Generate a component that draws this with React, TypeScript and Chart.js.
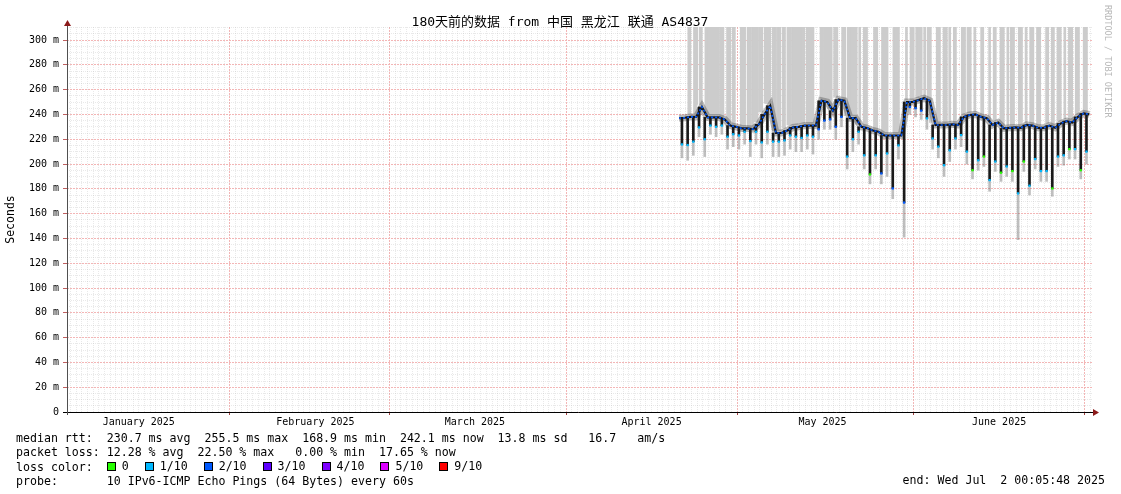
import React, { useEffect, useRef } from 'react';
import { Chart, registerables } from 'chart.js';

Chart.register(...registerables);

const FONT = "'DejaVu Sans Mono', 'Noto Sans CJK SC', monospace";
const TITLE = '180天前的数据 from 中国 黑龙江 联通 AS4837';
const Y_TITLE = 'Seconds';
const WATERMARK = 'RRDTOOL / TOBI OETIKER';

// time axis: days since 2025-01-03 00:05:48 (graph start, local time)
const GRAPH_START = Date.UTC(2025, 0, 3, 0, 5, 48);
const AXIS_MIN_DAY = 0.4;
const AXIS_MAX_DAY = 180.3;
const Y_MAX = 310.5;
const MONTH_LABELS = ['January 2025', 'February 2025', 'March 2025', 'April 2025', 'May 2025', 'June 2025'];
const MONTH_LABEL_DATE = 16;

// data: one entry per day, starting at day FIRST_DAY after graph start
const FIRST_DAY = 107;
const DIP_TIME = 0.33; // time of day of the daily dip (fraction of a day)

// median plateau level of each day (ms)
const medianLevel = [
  237, 237.3, 238, 238, 246, 237.6, 237.6, 237.6, 236, 231,
  230, 228.7, 228.7, 228.2, 232, 240, 247, 225, 225, 227,
  229.5, 230, 231, 231, 231, 251, 250, 243, 252, 251,
  237, 237, 230, 229, 227, 226, 223, 223, 223, 223,
  250, 250, 251.5, 253, 251, 231.5, 231.5, 231.5, 232, 231.5,
  238, 239.5, 240, 238, 237, 231.5, 233.5, 228.7, 229.2, 229.5,
  229.2, 231.5, 231, 229.2, 229.2, 231, 229.2, 232.7, 234.6, 233.5,
  238, 240.8, 240,
];

// lowest median of the daily dip (ms)
const dipMin = [
  null, 215.8, 215.3, 218, 229.5, 220, 231, 230, 231, 222,
  224, 223, 226, 218.5, 226, 217.4, 226, 218, 218, 219,
  223, 222, 221, 223, 222, 228, 235, 236, 230, 238,
  206, 220, 226, 207, 191.6, 207, 192.4, 208.5, 180.3, 215,
  168.9, 246, 245, 243, 236.8, 220.6, 214, 199, 211, 220.6,
  223.3, 210, 195, 203, 206, 187, 202, 193, 198, 194.3,
  176.3, 202, 182.5, 204, 194.3, 194.3, 180.3, 206, 207, 212,
  212, 195, 210,
];

// lower edge of the smoke below each dip (ms)
const smokeFloor = [
  null, 205, 203, 207, 222, 206, 224, 222, 224, 212,
  214, 212, 216, 206, 216, 205, 216, 206, 206, 207,
  212, 210, 210, 212, 208, 220, 228, 228, 220, 230,
  196, 210, 216, 196, 184, 196, 184, 190, 172, 204,
  141, 240, 238, 236, 228, 212, 205, 190, 202, 212,
  214, 200, 188, 195, 198, 178, 194, 186, 190, 186,
  139, 194, 175, 196, 186, 186, 174, 198, 199, 204,
  204, 188, 200,
];

// loss class at the bottom of each dip (index into LOSS_COLORS)
const dipLoss = [
  1, 1, 1, 1, 1, 1, 1, 1, 1, 1,
  1, 1, 1, 1, 1, 1, 1, 1, 1, 1,
  1, 1, 1, 1, 1, 2, 2, 2, 2, 2,
  1, 1, 1, 1, 0, 1, 2, 1, 2, 1,
  2, 2, 2, 2, 1, 1, 1, 1, 1, 1,
  1, 1, 0, 1, 0, 1, 1, 0, 1, 0,
  1, 0, 1, 1, 1, 1, 0, 1, 1, 0,
  1, 0, 1,
];

// time spans (days) where the slowest pings run off the top of the graph
const maxSmokeRanges = [
  [109.35, 109.85], [110.45, 110.95], [111.45, 111.85], [112.45, 113.95], [114.25, 114.75],
  [115.05, 115.65], [116.25, 116.85], [117.15, 117.55], [118.55, 119.45], [119.75, 120.35],
  [120.65, 121.55], [121.85, 122.35], [122.85, 123.85], [124.15, 124.75], [125.05, 125.65],
  [125.95, 126.45], [126.75, 127.35], [127.65, 128.55], [128.85, 129.75], [130.25, 131.45],
  [132.65, 132.95], [133.25, 133.85], [134.05, 134.65], [134.95, 135.55], [136.45, 137.05],
  [137.35, 138.15], [138.45, 139.05], [139.35, 139.65], [140.25, 140.85], [141.95, 142.55],
  [143.45, 144.35], [145.45, 146.35], [147.55, 147.85], [148.45, 148.95], [149.45, 150.45],
  [150.75, 151.05], [151.35, 151.95], [153.05, 153.65], [154.25, 154.85], [155.15, 155.45],
  [156.05, 156.35], [157.45, 158.05], [158.35, 158.95], [159.55, 159.85], [160.75, 161.25],
  [162.15, 162.45], [163.05, 163.35], [164.25, 164.75], [165.35, 165.65], [165.95, 166.55],
  [167.45, 168.05], [168.55, 168.85], [169.45, 170.05], [170.65, 171.25], [172.15, 172.65],
  [173.25, 173.55], [174.15, 174.75], [175.35, 175.65], [176.15, 176.75], [177.35, 177.95],
  [178.85, 179.45],
];

const LOSS_COLORS = ['#26ff00', '#00b8ff', '#0059ff', '#5e00ff', '#7e00ff', '#dd00ff', '#ff0000'];
const LOSS_LABELS = ['0', '1/10', '2/10', '3/10', '4/10', '5/10', '9/10'];

const STATS_RTT = 'median rtt:  230.7 ms avg  255.5 ms max  168.9 ms min  242.1 ms now  13.8 ms sd   16.7   am/s';
const STATS_LOSS = 'packet loss: 12.28 % avg  22.50 % max   0.00 % min  17.65 % now';
const LOSS_TITLE = 'loss color:  ';
const PROBE = 'probe:       10 IPv6-ICMP Echo Pings (64 Bytes) every 60s';
const END_TEXT = 'end: Wed Jul  2 00:05:48 2025';

const DAY_MS = 86400000;
const dayOf = (y: number, m: number, d: number) => (Date.UTC(y, m, d) - GRAPH_START) / DAY_MS;

const monthStarts = [1, 2, 3, 4, 5, 6].map((m) => dayOf(2025, m, 1));
const labelDays = [0, 1, 2, 3, 4, 5].map((m) => dayOf(2025, m, MONTH_LABEL_DATE));
const dayBoundaries: number[] = [];
for (let k = 1; k <= 181; k++) {
  const v = dayOf(2025, 0, 3 + k);
  if (v > AXIS_MIN_DAY && v < AXIS_MAX_DAY) dayBoundaries.push(v);
}
const near = (a: number, b: number) => Math.abs(a - b) < 1e-4;
const isMonthStart = (v: number) => monthStarts.some((m) => near(m, v));
const labelIndex = (v: number) => labelDays.findIndex((m) => near(m, v));
const isMajorY = (v: number) => v % 20 === 0;

const GRID_MINOR = 'rgba(175,175,175,0.28)';
const GRID_MAJOR = 'rgb(243,182,182)';

function buildConfig(): any {
  const dayX = (i: number) => FIRST_DAY + i + DIP_TIME;
  const medianPts = medianLevel.map((v, i) => ({ x: dayX(i) + 0.5, y: v }));
  const dipBars: any[] = [];
  const tailBars: any[] = [];
  const dipPts: any[] = [];
  const dipColors: string[] = [];
  dipMin.forEach((v, i) => {
    if (v == null) return;
    dipBars.push({ x: dayX(i), y: [v, medianLevel[i]] });
    tailBars.push({ x: dayX(i), y: [smokeFloor[i] as number, v] });
    dipPts.push({ x: dayX(i), y: v });
    dipColors.push(LOSS_COLORS[dipLoss[i]]);
  });
  const SLOT = 0.2;
  const maxSmokeBars: any[] = [];
  for (let s = FIRST_DAY + DIP_TIME + 0.5; s < AXIS_MAX_DAY; s += SLOT) {
    const c = s + SLOT / 2;
    if (maxSmokeRanges.some(([a, b]) => c >= a && c <= b)) {
      const i = Math.max(0, Math.min(medianLevel.length - 1, Math.floor(c - DIP_TIME - 0.5) - FIRST_DAY + 1));
      maxSmokeBars.push({ x: c, y: [medianLevel[i] + 2, Y_MAX] });
    }
  }

  const decor = {
    id: 'decor',
    afterDraw(chart: any) {
      const { ctx, chartArea: a } = chart;
      ctx.save();
      // axes
      ctx.lineWidth = 1;
      ctx.strokeStyle = '#000';
      ctx.beginPath();
      ctx.moveTo(a.left - 4, a.bottom + 0.5);
      ctx.lineTo(a.right + 2, a.bottom + 0.5);
      ctx.stroke();
      ctx.strokeStyle = '#505050';
      ctx.beginPath();
      ctx.moveTo(a.left + 0.5, a.bottom + 3);
      ctx.lineTo(a.left + 0.5, a.top - 3);
      ctx.stroke();
      // arrows
      ctx.fillStyle = '#8b1a1a';
      ctx.beginPath();
      ctx.moveTo(a.left + 0.5, a.top - 7);
      ctx.lineTo(a.left - 3, a.top - 1);
      ctx.lineTo(a.left + 4, a.top - 1);
      ctx.closePath();
      ctx.fill();
      ctx.beginPath();
      ctx.moveTo(a.right + 7, a.bottom + 0.5);
      ctx.lineTo(a.right + 1, a.bottom - 3);
      ctx.lineTo(a.right + 1, a.bottom + 4);
      ctx.closePath();
      ctx.fill();
      // title
      ctx.fillStyle = '#000';
      ctx.font = `13px ${FONT}`;
      ctx.textAlign = 'center';
      ctx.textBaseline = 'alphabetic';
      ctx.fillText(TITLE, 560, 26);
      // watermark
      ctx.translate(1107, 5);
      ctx.rotate(Math.PI / 2);
      ctx.font = `8.5px ${FONT}`;
      ctx.fillStyle = '#b8b8b8';
      ctx.textAlign = 'left';
      ctx.textBaseline = 'middle';
      ctx.fillText(WATERMARK, 0, 0);
      ctx.restore();
    },
  };

  return {
    type: 'line',
    data: {
      datasets: [
        {
          type: 'bar', label: 'max smoke', data: maxSmokeBars, backgroundColor: '#cccccc',
          barThickness: 2, grouped: false, borderWidth: 0, order: 10,
        },
        {
          type: 'line', label: 'smoke', data: medianPts, borderColor: 'rgba(60,60,60,0.35)',
          borderWidth: 7, pointRadius: 0, tension: 0, order: 9,
        },
        {
          type: 'bar', label: 'dip smoke', data: tailBars, backgroundColor: 'rgba(110,110,110,0.45)',
          barThickness: 2, grouped: false, borderWidth: 0, order: 8,
        },
        {
          type: 'bar', label: 'dip', data: dipBars, backgroundColor: '#1a1a1a',
          barThickness: 2, grouped: false, borderWidth: 0, order: 7,
        },
        {
          type: 'line', label: 'median', data: medianPts, borderColor: '#151515',
          borderWidth: 2.2, pointRadius: 0, tension: 0, order: 6,
        },
        {
          type: 'line', label: 'median loss', data: medianPts, borderColor: LOSS_COLORS[2],
          borderWidth: 1.6, borderDash: [2, 2], pointRadius: 0, tension: 0, order: 5,
        },
        {
          type: 'scatter', label: 'dip loss', data: dipPts, showLine: false,
          pointStyle: 'rect', pointRadius: 1.6, pointBorderWidth: 0,
          pointBackgroundColor: dipColors, order: 4,
        },
      ],
    },
    options: {
      animation: false,
      responsive: false,
      devicePixelRatio: 1,
      events: [],
      layout: { padding: { left: 0, top: 27, right: 29, bottom: 62 } },
      plugins: { legend: { display: false }, title: { display: false }, tooltip: { enabled: false } },
      scales: {
        x: {
          type: 'linear', min: AXIS_MIN_DAY, max: AXIS_MAX_DAY, offset: false,
          afterBuildTicks: (scale: any) => {
            const vals = Array.from(new Set([...dayBoundaries, ...monthStarts])).sort((p, q) => p - q);
            scale.ticks = vals.filter((v) => v > AXIS_MIN_DAY && v < AXIS_MAX_DAY).map((v) => ({ value: v }));
          },
          afterFit: (scale: any) => { scale.height = 20; },
          grid: {
            offset: false,
            color: (c: any) => (c.tick && isMonthStart(c.tick.value) ? GRID_MAJOR : GRID_MINOR),
            tickColor: (c: any) => (c.tick && isMonthStart(c.tick.value) ? '#a04040' : 'rgba(0,0,0,0)'),
            tickLength: 3,
          },
          border: {
            display: false,
            dash: (c: any) => (c.tick && isMonthStart(c.tick.value) ? [2, 1] : [1, 1]),
          },
          ticks: {
            autoSkip: false, maxRotation: 0, minRotation: 0, padding: 1, color: '#000',
            font: { family: FONT, size: 10 },
            callback: (v: number) => { const i = labelIndex(v); return i >= 0 ? MONTH_LABELS[i] : ''; },
          },
        },
        y: {
          type: 'linear', min: 0, max: Y_MAX,
          afterBuildTicks: (scale: any) => {
            const t: any[] = [];
            for (let v = 0; v <= 310; v += 5) t.push({ value: v });
            scale.ticks = t;
          },
          afterFit: (scale: any) => { scale.width = 67; },
          grid: {
            color: (c: any) => (c.tick && isMajorY(c.tick.value) ? GRID_MAJOR : GRID_MINOR),
            tickColor: (c: any) => (c.tick && isMajorY(c.tick.value) ? '#c06060' : 'rgba(0,0,0,0)'),
            tickLength: 4,
          },
          border: {
            display: false,
            dash: (c: any) => (c.tick && isMajorY(c.tick.value) ? [2, 1] : [1, 1]),
          },
          title: { display: true, text: Y_TITLE, color: '#000', font: { family: FONT, size: 11.5 }, padding: { top: 4, bottom: 0 } },
          ticks: {
            autoSkip: false, padding: 4, color: '#000', font: { family: FONT, size: 10 },
            callback: (v: number) => (v % 20 === 0 ? (v === 0 ? '0' : `${v} m`) : ''),
          },
        },
      },
    },
    plugins: [decor],
  };
}

export default function App() {
  const ref = useRef<HTMLCanvasElement>(null);
  useEffect(() => {
    const chart = new Chart(ref.current as HTMLCanvasElement, buildConfig());
    return () => chart.destroy();
  }, []);
  const textStyle: React.CSSProperties = {
    position: 'absolute', font: `11.6px ${FONT}`, whiteSpace: 'pre', lineHeight: '14px', color: '#000',
  };
  return (
    <div style={{ position: 'absolute', left: 0, top: 0, width: 1121, height: 494, background: '#fff', overflow: 'hidden' }}>
      <canvas ref={ref} width={1121} height={494} style={{ position: 'absolute', left: 0, top: 0 }} />
      <div style={{ ...textStyle, left: 16, top: 431 }}>
        <div>{STATS_RTT}</div>
        <div>{STATS_LOSS}</div>
        <div>
          {LOSS_TITLE}
          {LOSS_LABELS.map((l, i) => (
            <span key={l} style={{ display: 'inline-flex', alignItems: 'center', marginRight: 16 }}>
              <span style={{ display: 'inline-block', width: 7, height: 7, background: LOSS_COLORS[i], border: '1px solid #000', marginRight: 6 }} />
              {l}
            </span>
          ))}
        </div>
        <div>{PROBE}</div>
      </div>
      <div style={{ ...textStyle, right: 16, top: 473 }}>{END_TEXT}</div>
    </div>
  );
}
